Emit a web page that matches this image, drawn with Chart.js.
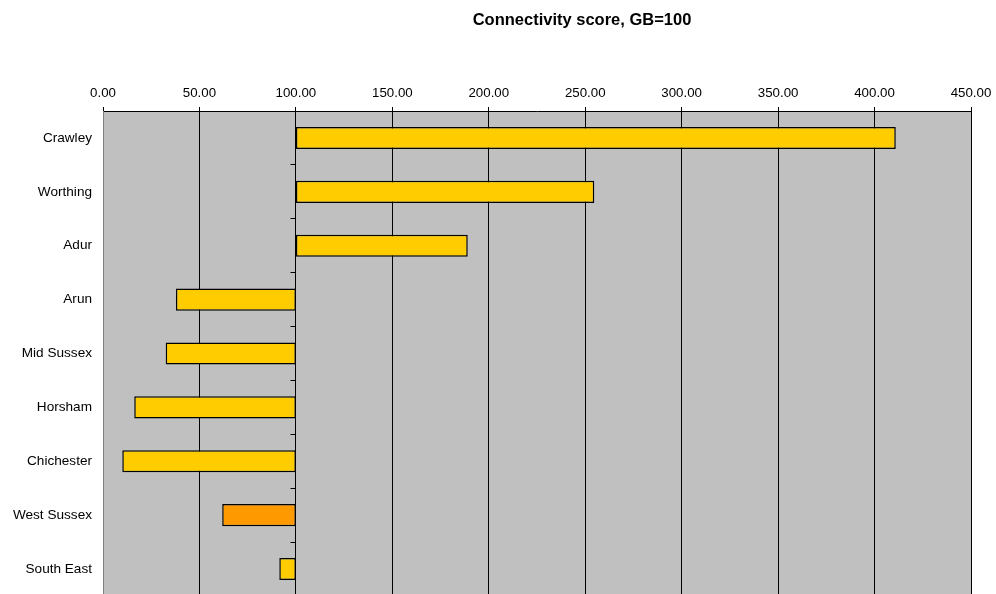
<!DOCTYPE html>
<html>
<head>
<meta charset="utf-8">
<title>Connectivity score, GB=100</title>
<script src="https://cdn.jsdelivr.net/npm/chart.js@4/dist/chart.umd.min.js"></script>
<style>
  html, body { margin: 0; padding: 0; background: #fff; overflow: hidden; }
  #wrap { width: 996px; height: 596px; }
</style>
</head>
<body>
<div id="wrap"><canvas id="chart" width="996" height="596"></canvas></div>
<script>
  // ---- data ----
  const areas = ['Crawley', 'Worthing', 'Adur', 'Arun', 'Mid Sussex', 'Horsham', 'Chichester', 'West Sussex', 'South East'];
  const scores = [411.0, 254.7, 189.1, 37.8, 32.5, 16.2, 10.0, 61.8, 91.4];
  const barColours = ['#FFCC00', '#FFCC00', '#FFCC00', '#FFCC00', '#FFCC00', '#FFCC00', '#FFCC00', '#FF9900', '#FFCC00'];
  const GB_BASE = 100;
  const X_MIN = 0, X_MAX = 450, X_STEP = 50;
  const TITLE = 'Connectivity score, GB=100';

  const FONT = "'Liberation Sans', Arial, sans-serif";

  // align a 1px line the same way Chart.js does
  function align(px) { return Math.round(px + 0.5) - 0.5; }

  // grey plot area background
  const plotBackground = {
    id: 'plotBackground',
    beforeDraw(chart) {
      const { ctx, chartArea: a } = chart;
      ctx.save();
      ctx.fillStyle = '#C0C0C0';
      ctx.fillRect(a.left, a.top, a.right - a.left, a.bottom - a.top);
      ctx.restore();
    }
  };

  // category axis crossing at GB=100, with ticks between categories
  const crossAxis = {
    id: 'crossAxis',
    afterDatasetsDraw(chart) {
      const { ctx, chartArea: a, scales: { x, y } } = chart;
      const px = align(x.getPixelForValue(GB_BASE));
      ctx.save();
      ctx.strokeStyle = '#000';
      ctx.lineWidth = 1;
      ctx.beginPath();
      ctx.moveTo(px, a.top);
      ctx.lineTo(px, a.bottom);
      const step = y.getPixelForValue(1) - y.getPixelForValue(0);
      for (let i = 0; i <= areas.length; i++) {
        const py = align(y.getPixelForValue(i) - step / 2);
        ctx.moveTo(px - 5, py);
        ctx.lineTo(px, py);
      }
      ctx.stroke();
      ctx.restore();
    }
  };

  // title drawn off-centre like the original
  const chartTitle = {
    id: 'chartTitle',
    afterDraw(chart) {
      const ctx = chart.ctx;
      ctx.save();
      ctx.font = 'bold 16.5px ' + FONT;
      ctx.fillStyle = '#000';
      ctx.textAlign = 'center';
      ctx.textBaseline = 'middle';
      ctx.fillText(TITLE, 582, 20);
      ctx.restore();
    }
  };

  new Chart(document.getElementById('chart'), {
    type: 'bar',
    data: {
      labels: areas,
      datasets: [{
        label: TITLE,
        data: scores.map(v => [GB_BASE, v]),
        backgroundColor: barColours,
        borderColor: '#000',
        borderWidth: 1.5,
        borderSkipped: false,
        barPercentage: 0.41,
        categoryPercentage: 1.0
      }]
    },
    options: {
      indexAxis: 'y',
      responsive: false,
      animation: false,
      layout: { padding: { left: 0, right: 25, top: 0, bottom: 0 } },
      plugins: {
        legend: { display: false },
        title: { display: false },
        tooltip: { enabled: false }
      },
      scales: {
        x: {
          position: 'top',
          min: X_MIN,
          max: X_MAX,
          afterFit(scale) {
            scale.height = 111;
            scale.paddingLeft = 0;
            scale.paddingRight = 0;
          },
          ticks: {
            stepSize: X_STEP,
            color: '#000',
            padding: 6,
            maxRotation: 0,
            font: { family: FONT, size: 13.3 },
            callback: v => Number(v).toFixed(2)
          },
          grid: { color: '#000', lineWidth: 1, tickLength: 4, drawTicks: true },
          border: { display: true, color: '#000', width: 1 }
        },
        y: {
          afterFit(scale) {
            scale.width = 103;
            scale.paddingTop = 0;
            scale.paddingBottom = 0;
          },
          ticks: {
            color: '#000',
            padding: 11,
            font: { family: FONT, size: 13.6 }
          },
          grid: { display: false, drawTicks: false },
          border: { display: true, color: '#808080', width: 1 }
        }
      }
    },
    plugins: [plotBackground, crossAxis, chartTitle]
  });
</script>
</body>
</html>
